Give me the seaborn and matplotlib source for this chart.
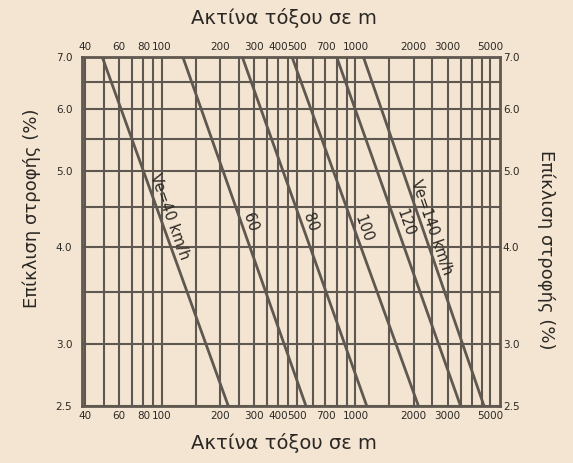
import numpy as np
import pandas as pd
import matplotlib
matplotlib.use("Agg")
import matplotlib.pyplot as plt
from matplotlib.ticker import NullFormatter
import seaborn as sns

# design speeds and radius where each line meets 7.0 % and 2.5 %
speeds = [40, 60, 80, 100, 120, 140]
radius_at_max = [49, 128, 260, 470, 800, 1100]
radius_at_min = [220, 555, 1145, 2120, 3500, 4630]
cant_max = 7.0
cant_min = 2.5
line_labels = ["Ve=40 km/h", "60", "80", "100", "120", "Ve=140 km/h"]
label_cant = [4.33, 4.26, 4.26, 4.18, 4.26, 4.20]

x_ticks = [40, 60, 80, 100, 200, 300, 400, 500, 700, 1000, 2000, 3000, 5000]
x_grid = [40, 50, 60, 70, 80, 90, 100, 150, 200, 250, 300, 350, 400, 450, 500,
          600, 700, 800, 900, 1000, 1500, 2000, 2500, 3000, 3500, 4000, 4500, 5000]
y_ticks = [2.5, 3.0, 4.0, 5.0, 6.0, 7.0]
y_grid = [3.5, 4.5, 5.5, 6.5]

bg = "#f3e5d2"
ink = "#5f5850"
txt = "#2b2824"

sns.set_theme(style="white", rc={"figure.facecolor": bg, "axes.facecolor": bg})
plt.rcParams["font.family"] = ["DejaVu Sans"]

rows = []
for v, r1, r2 in zip(speeds, radius_at_max, radius_at_min):
    rows.append({"Ve": v, "R": r1, "e": cant_max})
    rows.append({"Ve": v, "R": r2, "e": cant_min})
df = pd.DataFrame(rows)

fig = plt.figure(figsize=(5.73, 4.63), dpi=100)
ax = fig.add_axes([82 / 573, 1 - 406 / 463, 418 / 573, 349 / 463])
ax.set_xscale("log")
ax.set_yscale("log")
ax.set_xlim(38.5, 5600)
ax.set_ylim(cant_min, cant_max)

sns.lineplot(data=df, x="R", y="e", hue="Ve", palette=[ink] * len(speeds),
             estimator=None, sort=False, legend=False, linewidth=2.0, ax=ax, zorder=3)

ax.set_xticks(x_ticks, [str(t) for t in x_ticks])
ax.set_xticks(x_grid, minor=True)
ax.set_yticks(y_ticks, [f"{t:.1f}" for t in y_ticks])
ax.set_yticks(y_grid, minor=True)
ax.xaxis.set_minor_formatter(NullFormatter())
ax.yaxis.set_minor_formatter(NullFormatter())
ax.grid(True, which="both", color=ink, linewidth=1.5)
ax.tick_params(axis="x", which="both", length=0, top=True, bottom=True,
               labeltop=True, labelbottom=True, labelsize=7.5, labelcolor=txt, pad=3.5)
ax.tick_params(axis="y", which="both", length=0, labelsize=7.5, labelcolor=txt, pad=7)
ax.set_xlabel("")
ax.set_ylabel("")
for s in ax.spines.values():
    s.set_color(ink)
    s.set_linewidth(2)

# right-hand cant labels sit closer to the frame
ax2 = ax.twinx()
ax2.set_yscale("log")
ax2.set_ylim(cant_min, cant_max)
ax2.set_yticks(y_ticks, [f"{t:.1f}" for t in y_ticks])
ax2.yaxis.set_minor_formatter(NullFormatter())
ax2.set_yticks([], minor=True)
ax2.tick_params(axis="y", which="both", length=0, labelsize=7.5, labelcolor=txt, pad=2)
ax2.grid(False)
for s in ax2.spines.values():
    s.set_visible(False)

# labels along each line
for v, r1, r2, lab, ec in zip(speeds, radius_at_max, radius_at_min, line_labels, label_cant):
    p1 = ax.transData.transform((r1, cant_max))
    p2 = ax.transData.transform((r2, cant_min))
    ang = np.degrees(np.arctan2(p2[1] - p1[1], p2[0] - p1[0]))
    frac = (np.log(cant_max) - np.log(ec)) / (np.log(cant_max) - np.log(cant_min))
    r = np.exp(np.log(r1) + frac * (np.log(r2) - np.log(r1)))
    nx, ny = np.sin(-np.radians(ang)), np.cos(np.radians(ang))
    off = 6.5
    ax.annotate(lab, xy=(r, ec), xytext=(off * abs(nx), off * abs(ny)),
                textcoords="offset points", rotation=ang, rotation_mode="anchor",
                ha="center", va="center", fontsize=10.5, color=txt, zorder=4)

fig.text(284 / 573, 1 - 18 / 463, "Ακτίνα τόξου σε m", ha="center", va="center",
         fontsize=14, color=txt)
fig.text(284 / 573, 1 - 443 / 463, "Ακτίνα τόξου σε m", ha="center", va="center",
         fontsize=14, color=txt)
fig.text(32 / 573, 1 - 208 / 463, "Επίκλιση στροφής (%)", ha="center", va="center",
         rotation=90, fontsize=13, color=txt)
fig.text(546 / 573, 1 - 250 / 463, "Επίκλιση στροφής (%)", ha="center", va="center",
         rotation=270, fontsize=13, color=txt)

fig.savefig("out.png", dpi=100, facecolor=bg)
